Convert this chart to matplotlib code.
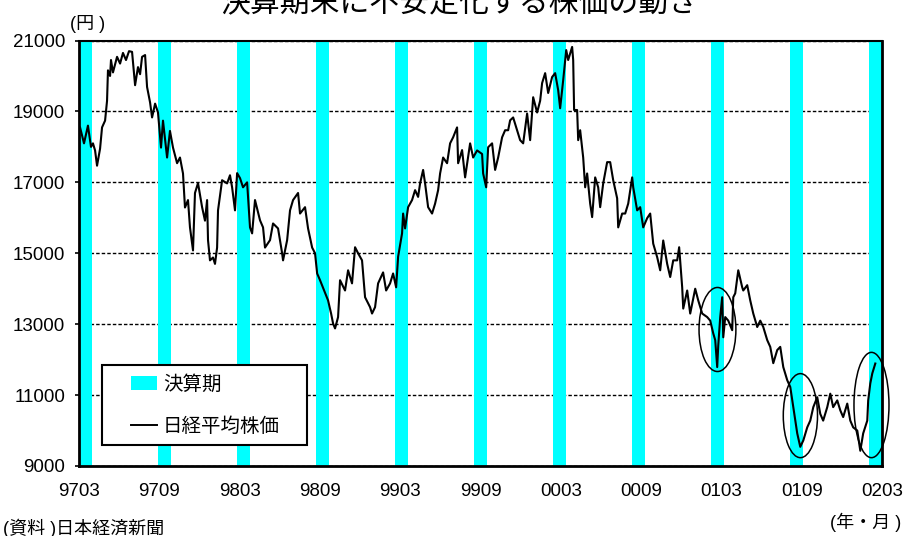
import matplotlib
matplotlib.use("Agg")
import matplotlib.pyplot as plt
from matplotlib.patches import Ellipse, Rectangle, Patch
from matplotlib.lines import Line2D

plt.rcParams['font.family'] = ['Liberation Sans', 'Noto Sans CJK JP', 'DejaVu Sans']

# months elapsed since the start of March 1997
months = [
    0.08, 0.38, 0.68, 0.91, 1.06, 1.22, 1.37, 1.60, 1.75, 1.98, 2.13, 2.20, 2.36, 2.43, 2.58,
    2.89, 3.12, 3.34, 3.57, 3.80, 4.03, 4.26, 4.48, 4.64, 4.79, 5.02, 5.17, 5.40, 5.55, 5.78,
    6.00, 6.23, 6.38, 6.69, 6.91, 7.14, 7.45, 7.67, 7.90, 8.05, 8.28, 8.43, 8.66, 8.81, 9.04,
    9.35, 9.57, 9.73, 9.80, 9.95, 10.18, 10.33, 10.49, 10.56, 10.87, 11.25, 11.47, 11.63, 11.85,
    12.01, 12.23, 12.46, 12.77, 12.99, 13.15, 13.37, 13.75, 13.98, 14.13, 14.51, 14.74, 15.12,
    15.43, 15.50, 15.81, 16.03, 16.26, 16.64, 16.79, 17.17, 17.40, 17.71, 17.93, 18.09, 18.31,
    18.62, 18.92, 19.15, 19.30, 19.45, 19.68, 19.83, 20.21, 20.44, 20.74, 20.97, 21.20, 21.50,
    21.73, 22.11, 22.26, 22.49, 22.72, 23.10, 23.33, 23.63, 23.86, 24.09, 24.24, 24.54, 24.62,
    24.77, 25.00, 25.30, 25.53, 25.76, 25.91, 26.14, 26.29, 26.52, 26.82, 27.05, 27.28, 27.43,
    27.66, 27.96, 28.19, 28.42, 28.72, 28.80, 29.10, 29.33, 29.71, 29.94, 30.24, 30.62, 30.70,
    30.93, 31.08, 31.38, 31.61, 31.84, 32.14, 32.37, 32.60, 32.75, 32.98, 33.28, 33.51, 33.74,
    34.04, 34.27, 34.42, 34.50, 34.80, 35.03, 35.18, 35.41, 35.64, 35.94, 36.17, 36.40, 36.55,
    36.78, 37.01, 37.16, 37.46, 37.54, 37.61, 37.84, 37.92, 38.07, 38.30, 38.45, 38.60, 38.83,
    38.98, 39.21, 39.44, 39.59, 39.82, 40.12, 40.35, 40.58, 40.88, 40.96, 41.26, 41.49, 41.72,
    42.02, 42.10, 42.40, 42.63, 42.86, 43.16, 43.39, 43.62, 43.92, 44.15, 44.38, 44.68, 44.91,
    45.14, 45.44, 45.59, 45.82, 45.90, 46.20, 46.43, 46.81, 47.04, 47.34, 47.72, 47.95, 48.18,
    48.33, 48.48, 48.56, 48.71, 48.86, 48.94, 49.09, 49.32, 49.62, 49.70, 49.85, 50.08, 50.38,
    50.46, 50.76, 50.99, 51.22, 51.52, 51.75, 51.98, 52.28, 52.51, 52.74, 53.04, 53.27, 53.50,
    53.80, 54.03, 54.26, 54.56, 54.79, 55.02, 55.32, 55.55, 55.78, 56.08, 56.31, 56.53, 56.84,
    57.07, 57.29, 57.60, 57.83, 58.05, 58.36, 58.59, 58.81, 59.12, 59.35, 59.57, 59.88, 59.95,
    60.11, 60.26, 60.49,
]

# Nikkei 225 closing level (yen)
nikkei = [
    18550, 18100, 18600, 18000, 18100, 17900, 17470, 17950, 18550, 18740, 19300, 20160, 20000, 20450, 20100,
    20540, 20350, 20650, 20450, 20700, 20680, 19740, 20250, 20050, 20540, 20590, 19690, 19250, 18830, 19220,
    18970, 17980, 18740, 17700, 18450, 17980, 17540, 17700, 17250, 16290, 16500, 15730, 15080, 16700, 16980,
    16300, 15920, 16500, 15370, 14800, 14880, 14700, 15160, 16210, 17060, 16970, 17200, 16860, 16210,
    17260, 17120, 16860, 17000, 15730, 15560, 16500, 15930, 15730, 15160, 15370, 15840, 15700,
    15000, 14800, 15370, 16210, 16500, 16700, 16120, 16300, 15700, 15160, 15000, 14430, 14240,
    13950, 13670, 13300, 13020, 12880, 13200, 14240, 13950, 14520, 14150, 15170, 15000, 14800,
    13760, 13480, 13300, 13480, 14150, 14460, 13950, 14150, 14430, 14040, 14900, 15560, 16120,
    15700, 16300, 16500, 16780, 16590, 16970, 17350, 16970, 16300, 16120, 16400, 16780, 17250,
    17700, 17540, 18100, 18270, 18550, 17540, 17910, 17140, 18100, 17700, 17900, 17800, 17250,
    16860, 17990, 18100, 17350, 17700, 18270, 18470, 18470, 18750, 18830, 18470, 18190, 18100,
    18940, 18190, 18970, 19400, 18970, 19300, 19800, 20080, 19520, 19970, 20080, 19600, 19090,
    19880, 20730, 20450, 20820, 20450, 19040, 19040, 18190, 18470, 17700, 16860, 17250, 16400,
    16020, 17140, 16860, 16300, 16970, 17570, 17570, 17060, 16550, 15730, 16120, 16120, 16400,
    17140, 16860, 16210, 16300, 15730, 15990, 16120, 15270, 14890, 14520, 15360, 14700, 14330,
    14800, 14800, 15170, 14040, 13440, 13950, 13300, 14000, 13670, 13300, 13200, 13100, 12740,
    12550, 11790, 12400, 13200, 13760, 12630, 13200, 13100, 12830, 13760, 13870, 14520, 14040,
    13950, 14100, 13670, 13300, 12920, 13100, 12920, 12550, 12360, 11900, 12270, 12360, 11790,
    11420, 11230, 10660, 9920, 9540, 9720, 10090, 10280, 10660, 10940, 10470, 10280, 10660,
    11040, 10660, 10850, 10570, 10380, 10760, 10280, 10090, 10000, 9430, 9920, 10280, 10850,
    11330, 11610, 11890,
]

# start of each March / September fiscal-period month
fiscal_months = [0, 6, 12, 18, 24, 30, 36, 42, 48, 54, 60]
tick_labels = ['9703', '9709', '9803', '9809', '9903', '9909',
               '0003', '0009', '0103', '0109', '0203']
y_ticks = [9000, 11000, 13000, 15000, 17000, 19000, 21000]

# circled periods: (centre month, centre yen, width months, height yen)
circles = [(48.5, 12850, 2.8, 2370), (54.8, 10420, 2.6, 2370), (60.2, 10720, 2.66, 2970)]

fig = plt.figure(figsize=(9.05, 5.36), dpi=100)
ax = fig.add_axes([0.0873, 0.1306, 0.8873, 0.7938])

for m in fiscal_months:
    ax.axvspan(m, m + 1, color='#00FFFF', lw=0, zorder=1)

ax.plot(months, nikkei, color='black', lw=1.5, zorder=3)

for cx, cy, w, h in circles:
    ax.add_patch(Ellipse((cx, cy), w, h, fill=False, edgecolor='black', lw=1.1,
                         zorder=4, clip_on=False))

ax.set_xlim(0, 61)
ax.set_ylim(9000, 21000)
ax.set_yticks(y_ticks)
ax.set_xticks([61 * i / 10 for i in range(len(tick_labels))])
ax.set_xticklabels(tick_labels)
ax.tick_params(axis='x', length=0, pad=12, labelsize=13.5)
ax.tick_params(axis='y', length=3, width=1.2, pad=7, labelsize=13.5)
ax.yaxis.grid(True, color='black', linestyle=(0, (2.5, 1.5)), lw=1.0, zorder=0)
ax.set_axisbelow(True)

for side in ['left', 'bottom', 'right']:
    ax.spines[side].set_linewidth(2)
ax.spines['top'].set_linewidth(1.5)
for s in ax.spines.values():
    s.set_zorder(5)

# legend box
ax.add_patch(Rectangle((0.0286, 0.049), 0.2554, 0.188, transform=ax.transAxes,
                       facecolor='white', edgecolor='black', lw=1.5, zorder=6))
handles = [Patch(facecolor='#00FFFF', edgecolor='none', label='決算期'),
           Line2D([], [], color='black', lw=1.4, label='日経平均株価')]
leg = ax.legend(handles=handles, loc='upper left', bbox_to_anchor=(0.0648, 0.214),
                frameon=False, borderpad=0, borderaxespad=0, fontsize=14,
                handlelength=1.35, handletextpad=0.3, labelspacing=1.2)
leg.set_zorder(7)

fig.text(0.508, 0.978, '決算期末に不安定化する株価の動き', ha='center', va='baseline', fontsize=21.5)
fig.text(0.097, 0.955, '(円 )', ha='center', va='center', fontsize=13)
fig.text(0.003, 0.015, '(資料 )日本経済新聞', ha='left', va='center', fontsize=13)
fig.text(0.957, 0.026, '(年・月 )', ha='center', va='center', fontsize=13)

fig.savefig('out.png', dpi=100)
